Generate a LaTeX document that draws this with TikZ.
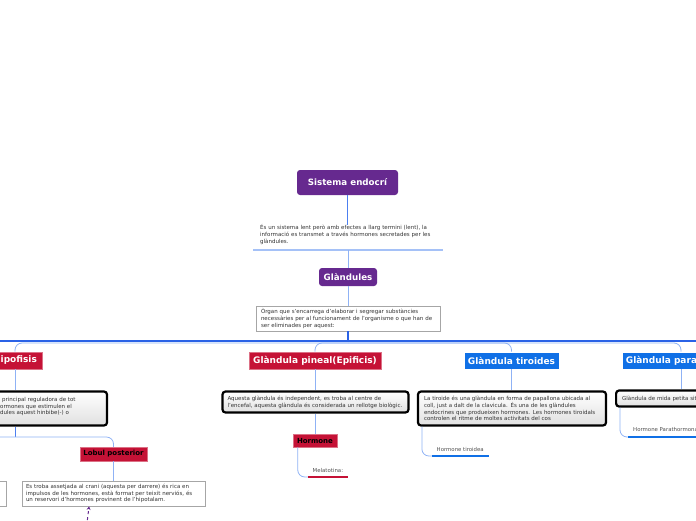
\documentclass[tikz,border=0pt]{standalone}
\usepackage{fontspec}
\setmainfont{DejaVu Sans}
\usetikzlibrary{arrows.meta}
\definecolor{purp}{HTML}{66298F}
\definecolor{redh}{HTML}{C51236}
\definecolor{blueh}{HTML}{1070E6}
\definecolor{linel}{HTML}{8FB2F5}
\definecolor{linem}{HTML}{4C7FF0}
\definecolor{lined}{HTML}{2A62E6}
\definecolor{txt}{HTML}{333333}
\begin{document}
\begin{tikzpicture}[x=1pt,y=-1pt,
  head/.style={inner sep=0pt, text=white, font=\fontsize{9}{10}\selectfont\bfseries, minimum height=17pt},
  purphead/.style={head, fill=purp, rounded corners=3pt, font=\fontsize{8.7}{10}\selectfont\bfseries},
  redhead/.style={head, fill=redh, draw=redh!60!white, line width=0.6pt},
  bluehead/.style={head, fill=blueh, draw=white, line width=0.6pt},
  subhead/.style={fill=redh, draw=redh!60!white, line width=0.5pt, text=black, font=\fontsize{7}{8}\selectfont\bfseries, inner sep=0pt},
  body/.style={font=\fontsize{5.5}{6.8}\selectfont, text=txt, align=left},
  lbl/.style={font=\fontsize{5.4}{6}\selectfont, text=txt!85!white, inner sep=0pt},
  thickbox/.style={draw=black, line width=2.2pt, rounded corners=3pt, top color=white, bottom color=black!12, inner sep=0pt},
  thinbox/.style={draw=black!35, line width=0.8pt, fill=white, inner sep=0pt},
  branch/.style={draw=linel, line width=0.8pt, rounded corners=7pt},
  midline/.style={draw=linem, line width=1pt},
  mainline/.style={draw=lined, line width=1.1pt},
  ulred/.style={draw=redh, line width=2.2pt},
  ulblue/.style={draw=blueh, line width=2.2pt},
  esline/.style={draw=linel!80!white, line width=1.5pt},
  purarrow/.style={draw=purp, line width=1pt, dashed, dash pattern=on 3pt off 3pt, -{Stealth[length=3.5pt,width=4pt]}}
]
\useasboundingbox (0,0) rectangle (696,520);

% top nodes
\node[purphead, minimum width=101pt, minimum height=25pt] (sistema) at (347.5,182.5) {Sistema endocrí};
\node[body, text width=184pt, inner sep=0pt, anchor=north west] (estext) at (260,224.5)
  {És un sistema lent però amb efectes a llarg termini (lent), la\\informació es transmet a través hormones secretades per les\\glàndules.};
\coordinate (esL) at (253,250);
\coordinate (esR) at (443,250);
\coordinate (esU) at (348,250);
\node[purphead, minimum width=58pt, minimum height=18pt] (glandules) at (348,277) {Glàndules};
\node[thinbox, body, text width=174pt, inner xsep=5pt, minimum height=25pt] (organ) at (348,318.5)
  {Òrgan que s'encarrega d'elaborar i segregar substàncies\\necessàries per al funcionament de l'organisme o que han de\\ser eliminades per aquest:};

\coordinate (hub) at (348,341);
\coordinate (hubb) at (348,343);
\coordinate (mainL) at (-5,341);
\coordinate (mainR) at (701,341);

% headings
\node[redhead, minimum width=54pt] (hipo) at (15,360.5) {Hipofisis};
\node[redhead, minimum width=132pt] (pineal) at (315,360.5) {Glàndula pineal(Epificis)};
\node[bluehead, minimum width=95pt] (tir) at (511.5,360.5) {Glàndula tiroides};
\node[bluehead, minimum width=118pt] (para) at (681,360.5) {Glàndula paratiroides};

% text boxes
\node[thickbox, minimum width=187pt, minimum height=34pt] (hipotext) at (13.5,408.5) {};
\node[body, anchor=west, inner sep=0pt] (hipolines) at (0,406.5)
  {\hspace*{2pt}principal reguladora de tot\\ormones que estimulen el\\dules aquest hinbibe(-) o};
\node[thickbox, body, text width=176pt, inner xsep=5pt, minimum height=21pt] (pinealtext) at (315.5,402)
  {Aquesta glàndula és independent, es troba al centre de\\l'encefal, aquesta glàndula és considerada un rellotge biològic.};
\node[thickbox, body, text width=176pt, inner xsep=6pt, minimum height=34pt] (tirtext) at (512,408.5)
  {La tiroide és una glàndula en forma de papallona ubicada al\\coll, just a dalt de la clavicula. És una de les glàndules\\endocrines que produeixen hormones. Les hormones tiroidals\\controlen el ritme de moltes activitats del cos};
\node[thickbox, body, anchor=west, inner xsep=6pt, minimum height=16pt] (paratext) at (615,398.5)
  {Glàndula de mida petita situada};

% hipofisis subtree
\coordinate (hipohub) at (15,437);
\node[subhead, minimum width=67pt, minimum height=14pt] (lobul) at (113.5,454) {Lobul posterior};
\node[thinbox, body, text width=175pt, inner xsep=4pt, minimum height=25pt] (lobtext) at (113.5,493.5)
  {Es troba assetjada al crani (aquesta per darrere) és rica en\\impulsos de les hormones, està format per teixit nerviós, és\\un reservori d'hormones provinent de l'hipotalam.};
\node[thinbox, minimum width=106pt, minimum height=25pt] (leftbox) at (-47,493.5) {};
\coordinate (arrS) at (86,532);

% pineal subtree
\node[subhead, minimum width=44pt, minimum height=13pt] (hormone) at (315,440.5) {Hormone};
\node[lbl, anchor=base west] (mela) at (312.5,472.5) {Melatotina:};
\coordinate (melaL) at (308,477);
\coordinate (melaR) at (348,477);

% tiroides subtree
\node[lbl, anchor=base west] (tirh) at (436.5,451.5) {Hormone tiroidea};
\coordinate (tirhL) at (432,456);
\coordinate (tirhR) at (489,456);

% paratiroides subtree
\node[lbl, anchor=base west] (parah) at (633,431.5) {Hormone Parathormona};
\coordinate (parahL) at (628,437);
\coordinate (parahR) at (705,437);

% connectors
\draw[midline] (sistema.south) -- (sistema.south |- estext.north);
\draw[esline] (esL) -- (esR);
\draw[branch] (esU) -- (glandules.north);
\draw[branch] (glandules.south) -- (organ.north);
\draw[branch] (hubb) -| (hipo.north);
\draw[branch] (hubb) -| (pineal.north);
\draw[branch] (hubb) -| (tir.north);
\draw[branch] (hubb) -| (para.north);
\draw[mainline] (mainL) -- (mainR);
\draw[mainline, line width=1.5pt] (organ.south) -- (hub);

\draw[branch] (hipo.south) -- (hipo.south |- hipotext.north);
\draw[midline] (hipo.south |- hipotext.south) -- (hipohub);
\draw[branch] (hipohub) -| (lobul.north);
\draw[branch] (hipohub) -| (leftbox.north);
\draw[branch, line width=1.5pt] (lobul.south) -- (lobul.south |- lobtext.north);
\draw[purarrow] (arrS) -- ([xshift=-24.5pt]lobtext.south);

\draw[branch] (pineal.south) -- (pineal.south |- pinealtext.north);
\draw[branch] (pineal.south |- pinealtext.south) -- (hormone.north);
\draw[branch] ([xshift=5pt]hormone.south west) |- (melaL);
\draw[ulred] (melaL) -- (melaR);

\draw[branch] (tir.south) -- (tir.south |- tirtext.north);
\draw[branch] ([xshift=5pt]tirtext.south west) |- (tirhL);
\draw[ulblue] (tirhL) -- (tirhR);

\draw[branch] (para.south) -- (para.south |- paratext.north);
\draw[branch] ([xshift=5pt]paratext.south west) |- (parahL);
\draw[ulblue] (parahL) -- (parahR);
\end{tikzpicture}
\end{document}
